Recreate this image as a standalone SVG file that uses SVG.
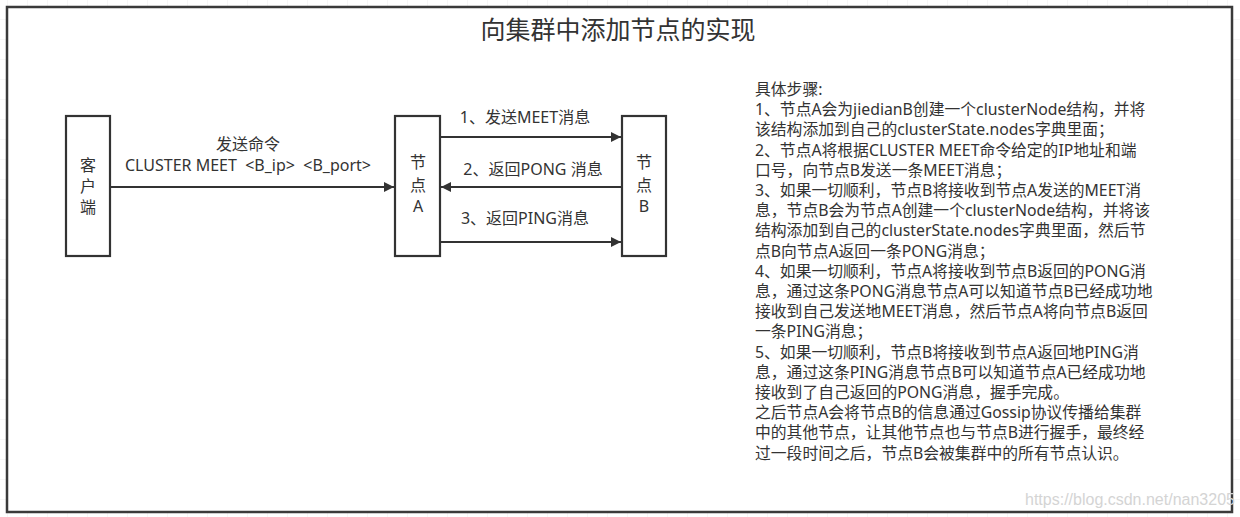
<svg xmlns="http://www.w3.org/2000/svg" width="1240" height="517" viewBox="0 0 1240 517">
<defs>
<pattern id="grid" width="20" height="20" patternUnits="userSpaceOnUse" x="8" y="0">
<path d="M20 0V20M0 20H20" fill="none" stroke="#ececec" stroke-width="1"/>
</pattern>
<marker id="arr" viewBox="0 0 10 10" refX="10" refY="5" markerWidth="10" markerHeight="10" markerUnits="userSpaceOnUse" orient="auto">
<path d="M0 0L10 5L0 10Z" fill="#333"/>
</marker>
<style>
.box{fill:#fff;stroke:#333;stroke-width:2.2}
.t{font-family:"Noto Sans","Noto Sans CJK SC",sans-serif;fill:#333}
.lbl{font-size:16px;text-anchor:middle}
.body{font-size:15.8px}
.ln{stroke:#333;stroke-width:2;fill:none;marker-end:url(#arr)}
</style>
</defs>
<rect width="1240" height="517" fill="#fff"/>
<rect width="1240" height="517" fill="url(#grid)"/>
<rect x="7" y="7" width="1225" height="505" fill="#fff" stroke="#3a3a3a" stroke-width="2.5"/>
<text class="t" x="618" y="39" font-size="25" text-anchor="middle">向集群中添加节点的实现</text>
<g id="client">
<rect class="box" x="66" y="116" width="44" height="140"/>
<text class="t lbl"><tspan x="88" y="171">客</tspan><tspan x="88" y="192">户</tspan><tspan x="88" y="213">端</tspan></text>
</g>
<g id="nodeA">
<rect class="box" x="395" y="116" width="45" height="140"/>
<text class="t lbl"><tspan x="418" y="168">节</tspan><tspan x="418" y="191">点</tspan><tspan x="418" y="212">A</tspan></text>
</g>
<g id="nodeB">
<rect class="box" x="622" y="116" width="44" height="140"/>
<text class="t lbl"><tspan x="644" y="168">节</tspan><tspan x="644" y="191">点</tspan><tspan x="644" y="212">B</tspan></text>
</g>
<g id="connectors">
<line class="ln" x1="111" y1="187" x2="394" y2="187"/>
<line class="ln" x1="441" y1="137" x2="621" y2="137"/>
<line class="ln" x1="621" y1="187" x2="441" y2="187"/>
<line class="ln" x1="441" y1="242" x2="621" y2="242"/>
<text class="t lbl" xml:space="preserve"><tspan x="248" y="150">发送命令</tspan><tspan x="248" y="171">CLUSTER MEET  &lt;B_ip&gt;  &lt;B_port&gt;</tspan></text>
<text class="t lbl" x="525" y="123">1、发送MEET消息</text>
<text class="t lbl" x="533" y="175">2、返回PONG 消息</text>
<text class="t lbl" x="525" y="224">3、返回PING消息</text>
</g>
<g id="steps" class="t body">
<text x="755" y="95">具体步骤:</text>
<text x="755" y="115.2">1、节点A会为jiedianB创建一个clusterNode结构，并将</text>
<text x="755" y="135.4">该结构添加到自己的clusterState.nodes字典里面；</text>
<text x="755" y="155.6">2、节点A将根据CLUSTER MEET命令给定的IP地址和端</text>
<text x="755" y="175.8">口号，向节点B发送一条MEET消息；</text>
<text x="755" y="196">3、如果一切顺利，节点B将接收到节点A发送的MEET消</text>
<text x="755" y="216.2">息，节点B会为节点A创建一个clusterNode结构，并将该</text>
<text x="755" y="236.4">结构添加到自己的clusterState.nodes字典里面，然后节</text>
<text x="755" y="256.6">点B向节点A返回一条PONG消息；</text>
<text x="755" y="276.8">4、如果一切顺利，节点A将接收到节点B返回的PONG消</text>
<text x="755" y="297">息，通过这条PONG消息节点A可以知道节点B已经成功地</text>
<text x="755" y="317.2">接收到自己发送地MEET消息，然后节点A将向节点B返回</text>
<text x="755" y="337.4">一条PING消息；</text>
<text x="755" y="357.6">5、如果一切顺利，节点B将接收到节点A返回地PING消</text>
<text x="755" y="377.8">息，通过这条PING消息节点B可以知道节点A已经成功地</text>
<text x="755" y="398">接收到了自己返回的PONG消息，握手完成。</text>
<text x="755" y="418.2">之后节点A会将节点B的信息通过Gossip协议传播给集群</text>
<text x="755" y="438.4">中的其他节点，让其他节点也与节点B进行握手，最终经</text>
<text x="755" y="458.6">过一段时间之后，节点B会被集群中的所有节点认识。</text>
</g>
<text x="1025" y="505" font-family="Liberation Sans, sans-serif" font-size="16" fill="#d4d4d4">https://blog.csdn.net/nan3205</text>
</svg>
